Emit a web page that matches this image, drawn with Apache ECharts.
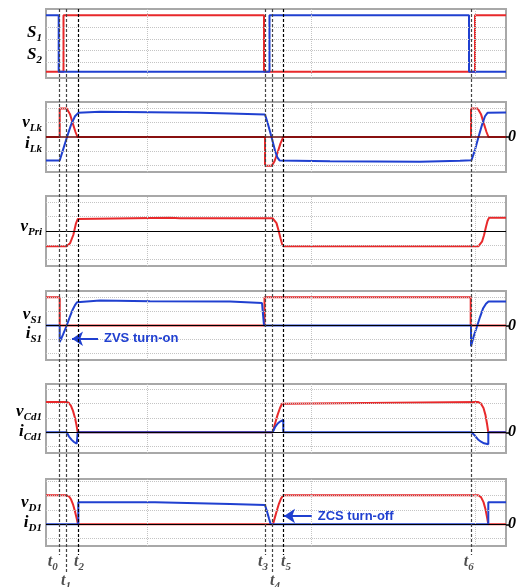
<!DOCTYPE html>
<html><head><meta charset="utf-8">
<script src="https://cdn.jsdelivr.net/npm/echarts@6/dist/echarts.min.js"></script>
<style>html,body{margin:0;padding:0;background:#fff}#c{width:522px;height:587px}</style>
</head><body><div id="c"></div>
<script>
const RED = '#e8292b', BLUE = '#2040d0';
const SERIF = 'Liberation Serif', SANS = 'Liberation Sans';

// time instants t0..t6 (time axis in arbitrary units)
const tNames = ['0','1','2','3','4','5','6'];
const tValues = [59.7, 66.7, 78.3, 265, 272.7, 283.3, 471.5];
const tLong = [false, true, false, false, true, false, false];
const tLabelShift = [-7, -0.7, 0.7, -2, 2.3, 2.7, -2.8];
const vGridX = [147, 311, 475];

// waveforms [time, value]
const S1 = [[46,-2],[63.5,-2],[63.5,2],[264,2],[264,-2],[475,-2],[475,2],[506,2]];
const S2 = [[46,2],[58.7,2],[58.7,-2],[269.5,-2],[269.5,2],[469,2],[469,-2],[506,-2]];

const vLk = [[46,0],[59.7,0],[59.7,2],[66.7,2],[70,1.6],[73,0.9],[75.5,0.35],[77.5,0],[265,0],[265,-2.02],[271.7,-2.02],[274.5,-1.7],[277.5,-1.1],[280.5,-0.45],[283.3,0],[471,0],[471,2],[477.7,2],[481,1.6],[484,0.9],[486.5,0.35],[488.5,0],[506,0]];
const iLk = [[46,-1.64],[59.7,-1.64],[63,-0.9],[67,0],[71,0.85],[75,1.45],[78.3,1.69],[100,1.76],[150,1.74],[200,1.7],[230,1.64],[265,1.57],[268,0.9],[271.5,0],[275,-0.95],[277.5,-1.45],[279.5,-1.64],[330,-1.7],[420,-1.74],[460,-1.66],[471.5,-1.62],[475,-0.9],[478.5,0],[482,0.85],[485,1.45],[487.5,1.69],[506,1.72]];

const vPri = [[46,-1.07],[66.7,-1.07],[68.5,-1.0],[70,-0.86],[73.3,-0.28],[76,0.54],[77.7,0.84],[78.3,0.92],[170,0.92],[180,0.89],[272.7,0.89],[274.5,0.82],[276.5,0.55],[278.5,0.05],[280.5,-0.5],[282,-0.9],[283.3,-1.07],[478.3,-1.07],[480,-1.0],[482,-0.75],[484,-0.3],[486,0.3],[487.5,0.7],[489,0.92],[506,0.92]];

const vS1 = [[46,2],[59.7,2],[59.7,0],[264.5,0],[264.5,2],[470.7,2],[470.7,0],[506,0]];
const iS1 = [[46,0],[59.7,0],[59.7,-1.18],[63,-0.65],[66.7,0],[70,0.65],[72.5,1.1],[75,1.45],[77,1.65],[78.3,1.73],[100,1.78],[150,1.73],[230,1.71],[262,1.6],[264,1.58],[264,0],[471,0],[471,-1.48],[474,-0.7],[477.3,0],[480,0.6],[483,1.2],[486,1.55],[488.5,1.71],[506,1.71]];

const vCd1 = [[46,2.12],[66.7,2.12],[69,2.05],[71,1.85],[73,1.5],[75,1.0],[76.5,0.5],[77.7,0],[272.7,0],[275,0.6],[277.5,1.2],[280,1.7],[282,2.0],[283.3,2.12],[478.3,2.12],[481,2.0],[483.5,1.7],[485.5,1.2],[487,0.6],[488.3,0],[506,0]];
const iCd1 = [[46,0],[66.7,0],[69,-0.3],[71.7,-0.53],[74,-0.68],[76.7,-0.8],[77.7,-0.83],[77.7,0],[272.7,0],[275,0.35],[277.5,0.6],[280,0.75],[283.3,0.86],[283.3,0],[471.7,0],[475,-0.25],[478,-0.5],[481,-0.66],[484,-0.77],[488.3,-0.84],[488.3,0],[506,0]];

const vD1 = [[46,2.03],[66.7,2.03],[69,1.95],[71,1.75],[73,1.4],[75,0.9],[76.7,0.4],[78,0],[273,0],[275,0.5],[277,1.0],[279,1.45],[281,1.8],[283.3,2.03],[478.3,2.03],[481,1.9],[483.5,1.55],[485.5,1.05],[487,0.5],[488.3,0],[506,0]];
const iD1 = [[46,0],[78.3,0],[78.3,1.54],[155,1.54],[157,1.47],[230,1.42],[265,1.35],[267,0.9],[269,0.4],[270.7,0],[488.3,0],[488.3,1.54],[506,1.54]];

// annotations
const ZVS = {text:'ZVS turn-on', panel:3, from:[98,-0.94], to:[72,-0.94]};
const ZCS = {text:'ZCS turn-off', panel:5, from:[311.7,0.58], to:[284,0.58]};

const panels = [
  {top:9,   height:69, min:-2.45, max:2.45, grid:[1.15,0.32,-0.51,-1.34], zero:false, zeroLabel:false, zeroTop:false,
   lines:[[S1,RED,['S','1']],[S2,BLUE,['S','2']]], labY:[33,55]},
  {top:102, height:70, min:-2.45, max:2.45, grid:[-2,-1,1,2], zero:true, zeroLabel:true, zeroTop:true,
   lines:[[vLk,RED,['v','Lk']],[iLk,BLUE,['i','Lk']]], labY:[123,144]},
  {top:196, height:70, min:-2.45, max:2.45, grid:[-2,-1,1,2], zero:true, zeroLabel:false, zeroTop:false,
   lines:[[vPri,RED,['v','Pri']]], labY:[227]},
  {top:291, height:69, min:-2.45, max:2.45, grid:[-2,-1,1,2], zero:true, zeroLabel:true, zeroTop:false,
   lines:[[vS1,RED,['v','S1']],[iS1,BLUE,['i','S1']]], labY:[315,334]},
  {top:384, height:69, min:-1.45, max:3.38, grid:[-1,1,2,3], zero:true, zeroLabel:true, zeroTop:false,
   lines:[[vCd1,RED,['v','Cd1']],[iCd1,BLUE,['i','Cd1']]], labY:[412,432]},
  {top:479, height:67, min:-1.52, max:3.17, grid:[-1,1,2,3], zero:true, zeroLabel:true, zeroTop:false,
   lines:[[vD1,RED,['v','D1']],[iD1,BLUE,['i','D1']]], labY:[503,523]}
];

function rich(color, main, sub){
  return {
    m:{fontFamily:SERIF,fontStyle:'italic',fontWeight:'bold',fontSize:main,color:color},
    s:{fontFamily:SERIF,fontStyle:'italic',fontWeight:'bold',fontSize:sub,color:color,lineHeight:sub,padding:[10,0,0,0]}
  };
}

const grids = [], xAxes = [], yAxes = [], series = [], graphics = [];
panels.forEach((p, i) => {
  grids.push({left:46, right:16, top:p.top, height:p.height, show:true, borderColor:'#a8a8a8', borderWidth:2, backgroundColor:'#fff'});
  xAxes.push({type:'value', gridIndex:i, min:46, max:506, show:false});
  yAxes.push({type:'value', gridIndex:i, min:p.min, max:p.max, position:'right',
    axisLine:{show:false}, splitLine:{show:false},
    axisTick:{show:p.zeroLabel, customValues:[0], length:4, lineStyle:{color:'#000', width:1.5}},
    axisLabel:{show:p.zeroLabel, customValues:[0], margin:2, formatter:()=> '0',
      fontFamily:SERIF, fontStyle:'italic', fontWeight:'bold', fontSize:16, color:'#000'}});
  // grid lines
  series.push({type:'line', xAxisIndex:i, yAxisIndex:i, data:[], z:1, silent:true,
    markLine:{silent:true, animation:false, symbol:['none','none'], label:{show:false},
      lineStyle:{type:'dotted', color:'#c4c4c4', width:1},
      data:[...p.grid.map(v=>({yAxis:v})), ...vGridX.map(x=>({xAxis:x}))]}});
  if (p.zero) {
    series.push({type:'line', xAxisIndex:i, yAxisIndex:i, data:[], z:p.zeroTop?5:1, silent:true,
      markLine:{silent:true, animation:false, symbol:['none','none'], label:{show:false},
        lineStyle:{type:'solid', color:p.zeroTop?'#6a0808':'#000', width:p.zeroTop?1.6:1}, data:[{yAxis:0}]}});
  }
  p.lines.forEach((ln, k) => {
    series.push({type:'line', xAxisIndex:i, yAxisIndex:i, data:ln[0], showSymbol:false, symbol:'none',
      z:2+k, silent:true, animation:false, lineStyle:{color:ln[1], width:2}});
    graphics.push({type:'text', x:42, y:p.labY[k], z:20,
      style:{text:'{m|'+ln[2][0]+'}{s|'+ln[2][1]+'}', rich:rich(ln[1],17,11), align:'right', verticalAlign:'middle'}});
  });
});

// annotation arrows
[ZVS, ZCS].forEach(a => {
  series.push({type:'line', xAxisIndex:a.panel, yAxisIndex:a.panel, data:[], z:6, silent:true,
    markLine:{silent:true, animation:false, symbol:['none','arrow'], symbolSize:11,
      label:{show:true, position:'start', formatter:a.text, distance:6,
        fontFamily:SANS, fontWeight:'bold', fontSize:13, color:BLUE},
      lineStyle:{type:'solid', color:BLUE, width:2},
      data:[[{coord:a.from},{coord:a.to}]]}});
});

// overlay for time markers
const OV = panels.length;
grids.push({left:46, right:16, top:0, bottom:0, show:false});
xAxes.push({type:'value', gridIndex:OV, min:46, max:506, show:false});
yAxes.push({type:'value', gridIndex:OV, min:0, max:587, inverse:true, show:false});
series.push({type:'line', xAxisIndex:OV, yAxisIndex:OV, data:[], z:10, silent:true,
  markLine:{silent:true, animation:false, symbol:['none','none'], label:{show:false},
    data: tValues.map((t,k)=>[
      {coord:[t,9], lineStyle:{type:[3,2], color:(k===2||k===5)?'#000':'#444', width:1.2}},
      {coord:[t, tLong[k]?574:555]}])}});
series.push({type:'scatter', xAxisIndex:OV, yAxisIndex:OV, symbolSize:0, z:11, silent:true, clip:false,
  data: tValues.map((t,k)=>({value:[t+tLabelShift[k], tLong[k]?581:562],
    label:{show:true, position:'inside', formatter:'{m|t}{s|'+tNames[k]+'}', rich:rich('#222',16,11)}}))});

const chart = echarts.init(document.getElementById('c'));
chart.setOption({animation:false, backgroundColor:'#fff', grid:grids, xAxis:xAxes, yAxis:yAxes, series:series, graphic:graphics});
</script></body></html>
